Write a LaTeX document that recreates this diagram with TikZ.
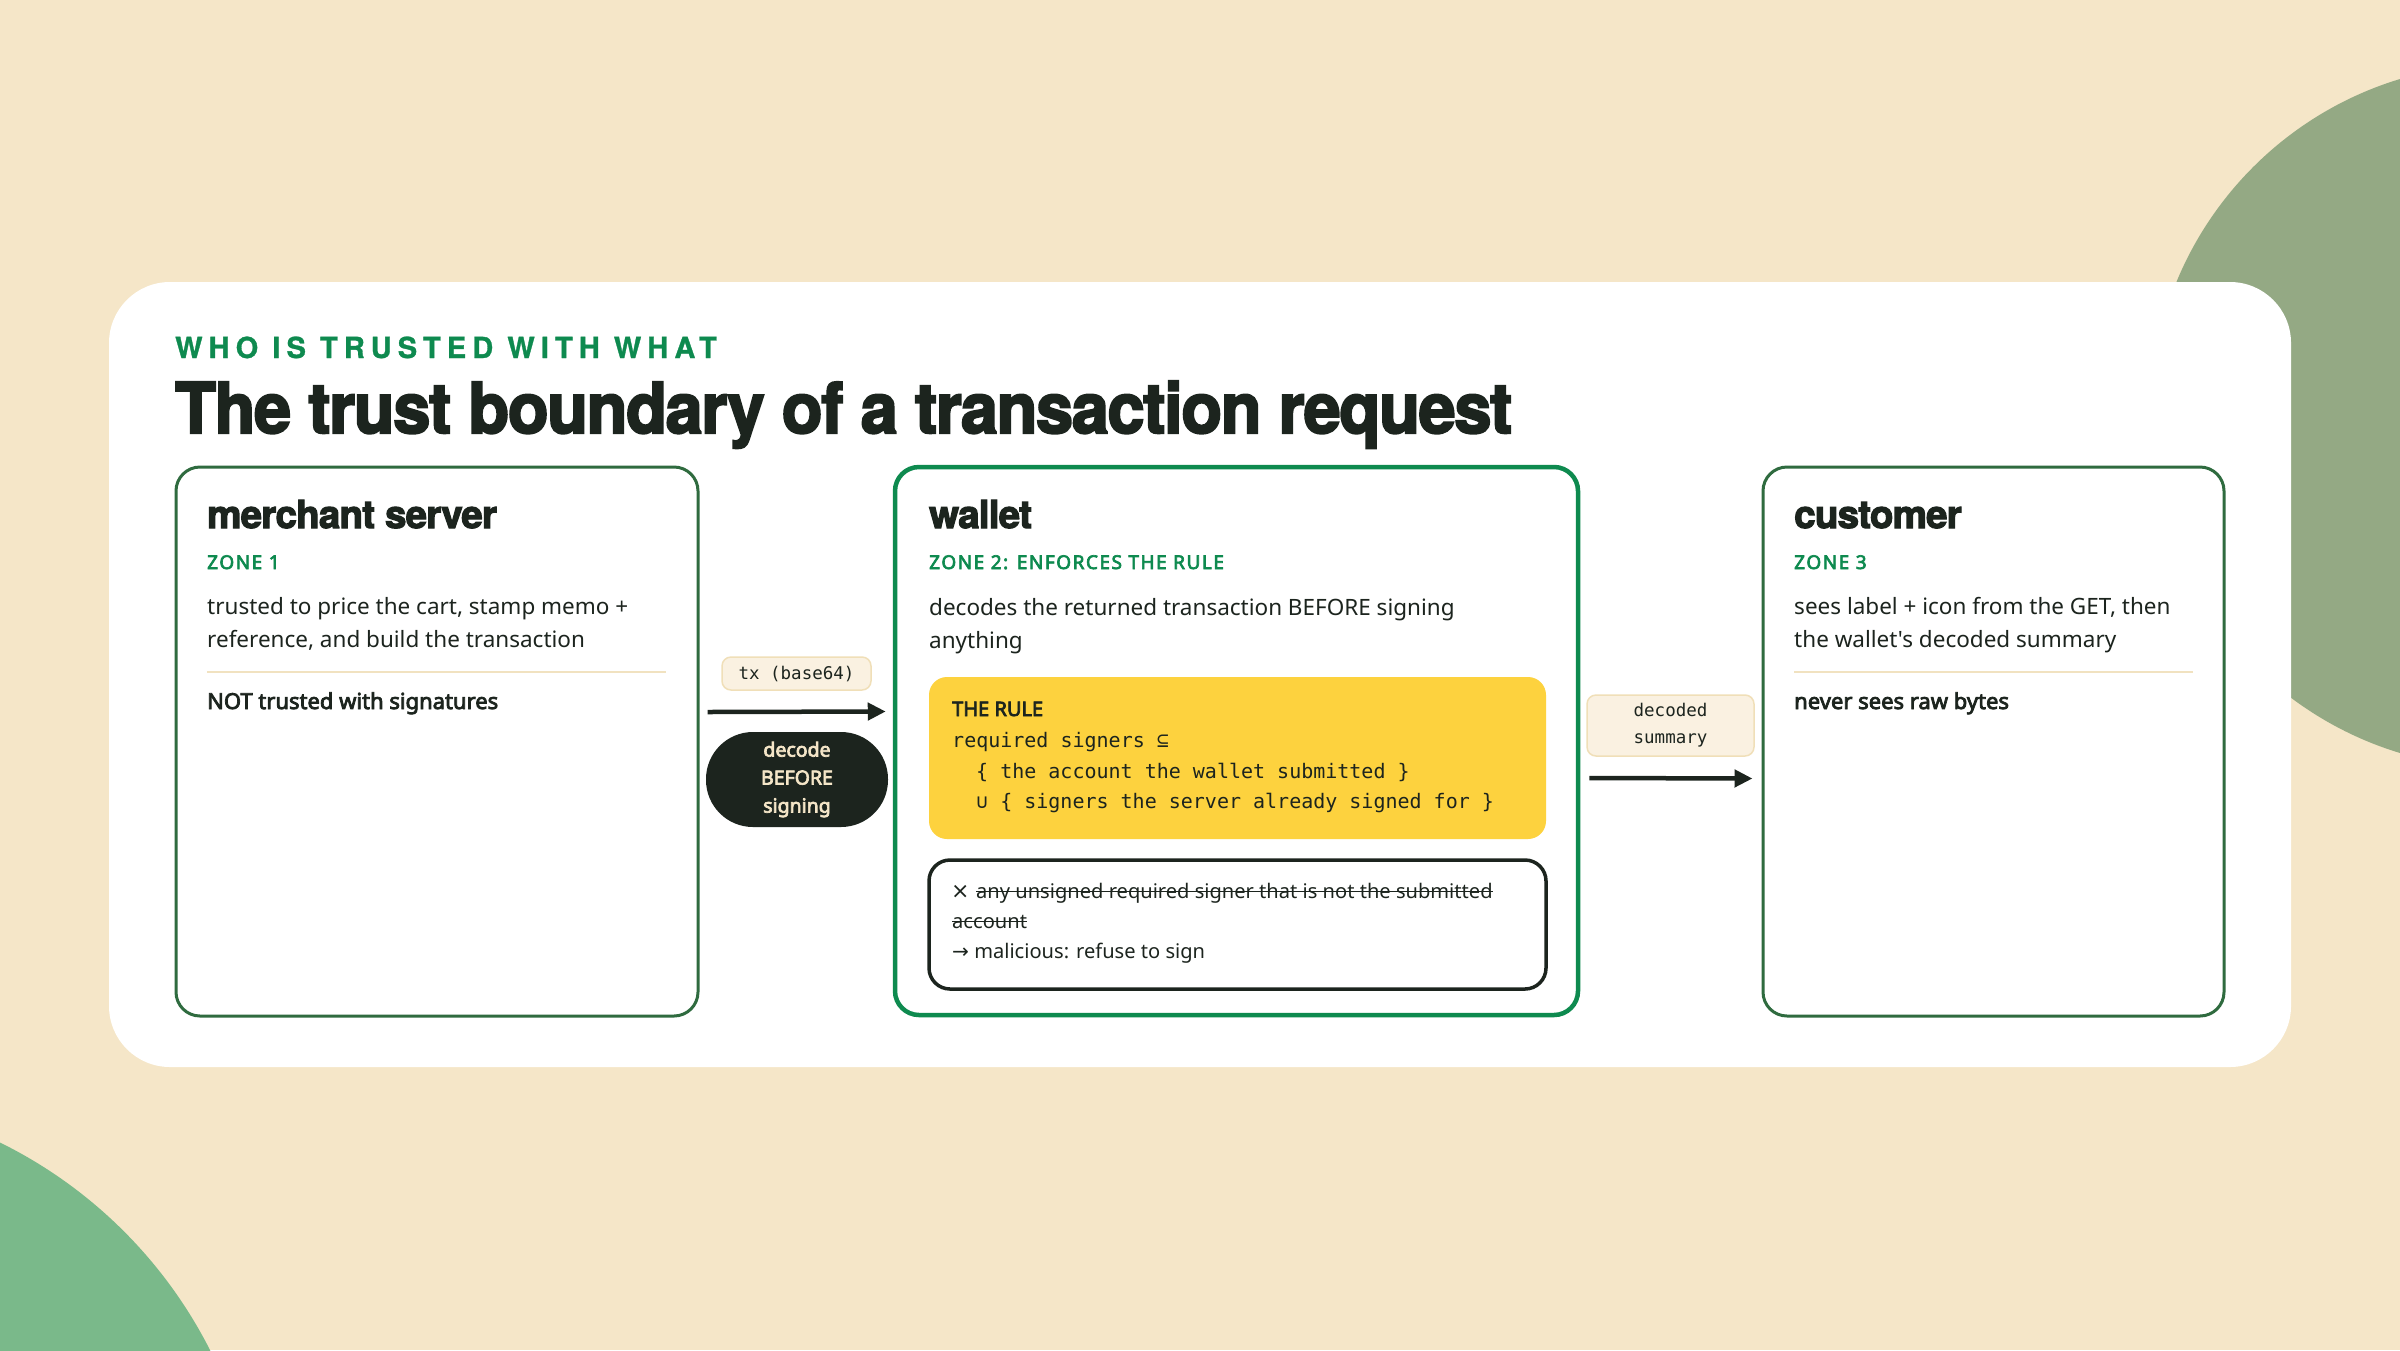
\documentclass[tikz,border=0pt]{standalone}
\usepackage{fontspec}
\usepackage{graphicx}
\usepackage{tikz}
\usetikzlibrary{positioning}
\usetikzlibrary{arrows.meta}

\newfontfamily\bodyfont{Noto Sans}[BoldFont={Noto Sans}, BoldFeatures={FakeBold=3.5}]
\newfontfamily\headfont{TeX Gyre Heros}[BoldFeatures={FakeBold=3}, LetterSpace=-2]
\newfontfamily\eyefont{TeX Gyre Heros}[LetterSpace=21, BoldFeatures={FakeBold=1}]
\newfontfamily\capsfont{Noto Sans}[LetterSpace=8, BoldFont={Noto Sans}, BoldFeatures={FakeBold=3.5}]
\newfontfamily\codefont{DejaVu Sans Mono}
\newfontfamily\symfont{DejaVu Sans}

\definecolor{paper}{HTML}{F5E6C8}
\definecolor{ink}{HTML}{1C241E}
\definecolor{leaf}{HTML}{0E8A4F}
\definecolor{moss}{HTML}{2F6B3F}
\definecolor{sage}{HTML}{94A984}
\definecolor{mint}{HTML}{7AB98A}
\definecolor{sand}{HTML}{F1E2C0}
\definecolor{chip}{HTML}{FAF1E1}
\definecolor{chipline}{HTML}{F0DFB8}
\definecolor{rulefill}{HTML}{FDD23E}

\tikzset{
  zonebox/.style={draw=moss, line width=3pt, rounded corners=24pt, fill=white, inner sep=0pt},
  headtxt/.style={anchor=base west, inner sep=0pt, text=ink, font=\headfont\bfseries\fontsize{38.5}{42}\selectfont},
  zonetxt/.style={anchor=base west, inner sep=0pt, text=leaf, font=\capsfont\bfseries\fontsize{19}{24}\selectfont},
  bodytxt/.style={anchor=base west, inner sep=0pt, text=ink, align=left, font=\bodyfont\fontsize{22.5}{33}\selectfont},
  boldtxt/.style={bodytxt, font=\bodyfont\bfseries\fontsize{22}{33}\selectfont},
  codetxt/.style={anchor=base west, inner sep=0pt, text=ink, font=\codefont\fontsize{20}{30}\selectfont},
  striketxt/.style={anchor=base west, inner sep=0pt, text=ink, font=\bodyfont\fontsize{20.1}{30}\selectfont},
  strike/.style={draw=ink, line width=1.6pt},
  sepline/.style={draw=sand, line width=2pt},
  flow/.style={draw=ink, line width=4.5pt, -{Triangle[length=18pt,width=17pt]}},
  chiplbl/.style={draw=chipline, line width=1.5pt, fill=chip, rounded corners=9pt, text=ink, align=center, inner sep=0pt, font=\codefont\fontsize{17.5}{27}\selectfont},
  pill/.style={fill=ink, rounded corners=47pt, minimum width=182pt, minimum height=95pt, inner sep=0pt, text=paper, align=center, font=\bodyfont\bfseries\fontsize{19.5}{28}\selectfont}
}

\begin{document}
\begin{tikzpicture}[x=1pt,y=-1pt]
% canvas and backdrop
\useasboundingbox (0,0) rectangle (2400,1350);
\fill[paper] (0,0) rectangle (2400,1350);
\begin{scope}
\clip (0,0) rectangle (2400,1350);
\fill[sage] (2502,416) circle (352);
\fill[mint] (-205,1560) circle (465);
\end{scope}
\fill[white, rounded corners=61pt] (109,282) rectangle (2291,1067);

% heading
\node[anchor=base west, inner sep=0pt, text=leaf, font=\eyefont\bfseries\fontsize{29}{32}\selectfont] (kicker) at (175,358) {WHO IS TRUSTED WITH WHAT};
\node[anchor=base west, inner sep=0pt, text=ink, font=\headfont\bfseries\fontsize{70}{76}\selectfont] (title) at (175,433) {\resizebox{1337pt}{\height}{The trust boundary of a transaction request}};

% the three zones
\node[zonebox, minimum width=522pt, minimum height=549pt] (merchant) at (437,741.5) {};
\node[zonebox, draw=leaf, line width=4.5pt, minimum width=683pt, minimum height=548pt] (wallet) at (1236.5,741) {};
\node[zonebox, minimum width=461pt, minimum height=549pt] (customer) at (1993.5,741.5) {};

% zone 1
\node[headtxt] (merchantT) at (207,528) {merchant server};
\node[zonetxt] (merchantZ) at (207,569) {ZONE 1};
\node[bodytxt] (merchantB) at (207,647) {trusted to price the cart, stamp memo +\\reference, and build the transaction};
\draw[sepline] (207,672) -- (666,672);
\node[boldtxt] (merchantN) at (207,709) {NOT trusted with signatures};

% zone 2
\node[headtxt] (walletT) at (929,528) {wallet};
\node[zonetxt] (walletZ) at (929,569) {ZONE 2: ENFORCES THE RULE};
\node[bodytxt] (walletB) at (929,648) {decodes the returned transaction BEFORE signing\\anything};
\node[fill=rulefill, rounded corners=18pt, minimum width=617pt, minimum height=162pt, inner sep=0pt] (rulebox) at (1237.5,758) {};
\node[boldtxt, font=\bodyfont\bfseries\fontsize{20}{30}\selectfont] (ruleT) at (952,716) {THE RULE};
\node[codetxt] (ruleA) at (952,747) {required signers ⊆};
\node[codetxt] (ruleB) at (976,778) {\{ the account the wallet submitted \}};
\node[codetxt] (ruleC) at (976,808) {∪ \{ signers the server already signed for \}};
\node[draw=ink, line width=3.5pt, fill=white, rounded corners=21pt, minimum width=617pt, minimum height=129pt, inner sep=0pt] (refusebox) at (1237.5,924.5) {};
\node[striketxt, font=\symfont\fontsize{22}{30}\selectfont] (refuseX) at (951,898) {×};
\node[striketxt] (refuseA) at (976,898) {any unsigned required signer that is not the submitted};
\node[striketxt] (refuseB) at (952,928) {account};
\draw[strike] ([yshift=6.5pt]refuseA.base west) -- ([yshift=6.5pt]refuseA.base east);
\draw[strike] ([yshift=6.5pt]refuseB.base west) -- ([yshift=6.5pt]refuseB.base east);
\node[striketxt] (refuseC) at (952,958) {{\symfont →} malicious: refuse to sign};

% zone 3
\node[headtxt] (customerT) at (1794,528) {customer};
\node[zonetxt] (customerZ) at (1794,569) {ZONE 3};
\node[bodytxt] (customerB) at (1794,647) {sees label + icon from the GET, then\\the wallet's decoded summary};
\draw[sepline] (1794,672) -- (2193,672);
\node[boldtxt] (customerN) at (1794,709) {never sees raw bytes};

% hand-offs
\draw[flow] ([xshift=8pt,yshift=29.5pt]merchant.east) -- ([xshift=-7pt,yshift=29.5pt]wallet.west);
\node[chiplbl, minimum width=149pt, minimum height=33pt] (txlbl) at (796.5,673.5) {tx (base64)};
\node[pill] (decode) at (797,779.5) {decode\\BEFORE\\signing};
\draw[flow] ([xshift=9pt,yshift=-37pt]wallet.east) -- ([xshift=-9pt,yshift=-37pt]customer.west);
\node[chiplbl, minimum width=167pt, minimum height=61pt] (sumlbl) at (1670.5,725.5) {decoded\\summary};
\end{tikzpicture}
\end{document}
